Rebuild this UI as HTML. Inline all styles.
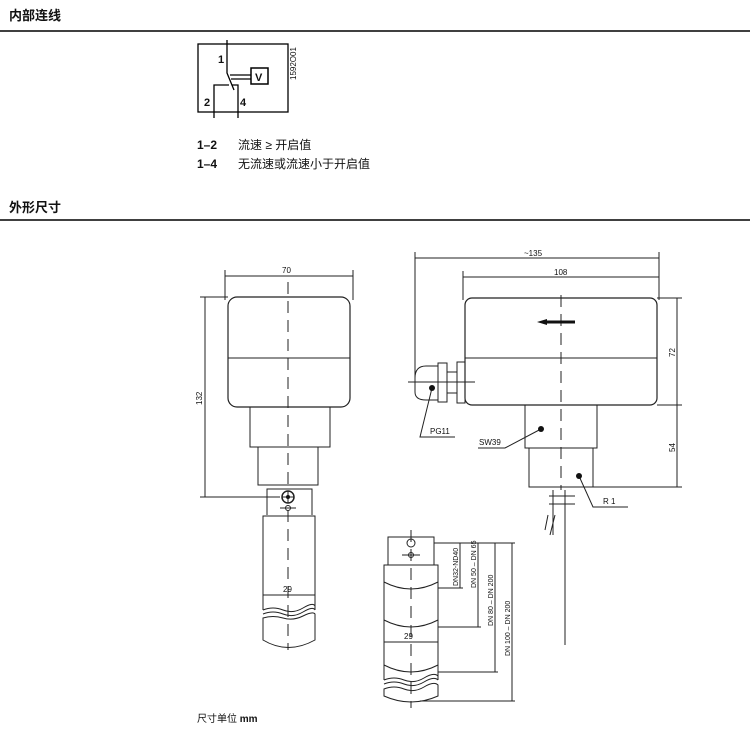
<!DOCTYPE html>
<html><head><meta charset="utf-8"><style>
body{margin:0;background:#fff;width:750px;height:735px;overflow:hidden}
svg{display:block}
text{font-family:"Liberation Sans","Noto Sans CJK SC",sans-serif;fill:#111}
</style></head><body>
<svg width="750" height="735" viewBox="0 0 750 735" xmlns="http://www.w3.org/2000/svg">
<g font-weight="bold" font-size="13">
<text x="9" y="20">内部连线</text>
<text x="9" y="212">外形尺寸</text>
</g>
<line x1="0" y1="31" x2="750" y2="31" stroke="#000" stroke-width="1.5"/>
<line x1="0" y1="220" x2="750" y2="220" stroke="#000" stroke-width="1.5"/>

<!-- wiring -->
<g stroke="#000" stroke-width="1.3" fill="none">
<rect x="198" y="44" width="90" height="68"/>
<polyline points="227,40 227,73 234,90"/>
<rect x="251" y="68" width="17" height="16" stroke-width="1.5"/>
<line x1="230" y1="75" x2="251" y2="75"/><line x1="231" y1="79" x2="251" y2="79"/>
<polyline points="214,118 214,85 229,85"/>
<polyline points="232,85 238,85 238,118"/>
</g>
<g font-weight="bold" font-size="11">
<text x="218" y="63">1</text><text x="204" y="106">2</text><text x="240" y="106">4</text>
<text x="255" y="81">V</text>
</g>
<text font-size="8" transform="translate(296,80) rotate(-90)">1592O01</text>
<g font-size="12">
<text x="197" y="149" font-weight="bold">1–2</text><text x="238" y="149">流速 ≥ 开启值</text>
<text x="197" y="168" font-weight="bold">1–4</text><text x="238" y="168">无流速或流速小于开启值</text>
</g>

<g stroke="#222" stroke-width="1" fill="none">
<!-- left view -->
<line x1="225" y1="276" x2="353" y2="276"/><line x1="225" y1="270" x2="225" y2="300"/><line x1="353" y1="270" x2="353" y2="300"/>
<rect x="228" y="297" width="122" height="110" rx="9" stroke-width="1.2"/>
<line x1="228" y1="358" x2="350" y2="358"/>
<polyline points="250,407 250,447 330,447 330,407"/>
<rect x="258" y="447" width="60" height="38"/>
<line x1="200" y1="297" x2="228" y2="297"/><line x1="200" y1="497" x2="280" y2="497"/>
<line x1="205" y1="297" x2="205" y2="497"/>
<polyline points="267,515 267,489 312,489 312,515"/>
<circle cx="288" cy="497" r="6" stroke-width="1.5"/><line x1="282" y1="497" x2="294" y2="497"/>
<circle cx="288" cy="508" r="2.5"/><line x1="280" y1="508" x2="296" y2="508"/>
<polyline points="263,610 263,516 315,516 315,610"/>
<path d="M263,610 q10,-4 20,0 t20,-2 t12,-2 M263,614 q10,-4 20,0 t20,-2 t12,-2"/>
<path d="M263,618 q10,-3 20,0 t20,-2 t12,-2 L315,640 Q288,655 263,640 Z"/>
<line x1="263" y1="595" x2="315" y2="595"/>
<line x1="288" y1="282" x2="288" y2="650" stroke-dasharray="12,7"/>

<!-- right view -->
<line x1="415" y1="258" x2="659" y2="258"/><line x1="415" y1="252" x2="415" y2="385"/><line x1="659" y1="252" x2="659" y2="300"/>
<line x1="463" y1="277" x2="659" y2="277"/><line x1="463" y1="271" x2="463" y2="300"/>
<rect x="465" y="298" width="192" height="107" rx="7" stroke-width="1.2"/>
<line x1="465" y1="358" x2="657" y2="358"/>
<path d="M438,366 L426,366 Q415,366 415,378 L415,392 Q415,400 426,400 L438,400"/>
<rect x="438" y="363" width="9" height="39"/><rect x="457" y="362" width="8" height="41"/>
<line x1="447" y1="372" x2="457" y2="372"/><line x1="447" y1="393" x2="457" y2="393"/>
<line x1="408" y1="382" x2="475" y2="382"/>
<polyline points="525,405 525,448 597,448 597,405"/>
<rect x="529" y="448" width="64" height="39"/>
<line x1="657" y1="298" x2="682" y2="298"/><line x1="657" y1="405" x2="682" y2="405"/><line x1="593" y1="487" x2="682" y2="487"/>
<line x1="677" y1="298" x2="677" y2="487"/>
<line x1="561" y1="295" x2="561" y2="490" stroke-dasharray="12,7"/>
<line x1="553" y1="490" x2="553" y2="535"/><line x1="565" y1="490" x2="565" y2="645"/>
<line x1="549" y1="496" x2="575" y2="496"/><line x1="549" y1="504" x2="575" y2="504"/>
<path d="M548,515 L545,530 M555,515 L550,535"/>
<polyline points="432,388 420,437 455,437"/>
<polyline points="541,429 505,448 478,448"/>
<polyline points="579,476 593,507 628,507"/>

<!-- bottom right paddle -->
<polyline points="388,565 388,537 434,537 434,565"/>
<polyline points="384,680 384,565 438,565 438,680"/>
<circle cx="411" cy="543" r="4"/><circle cx="411" cy="555" r="2.5"/><line x1="402" y1="555" x2="420" y2="555"/>
<path d="M384,582 Q411,596 438,582 M384,620 Q411,634 438,620 M384,665 Q411,679 438,665"/>
<path d="M384,680 q10,-4 20,0 t20,-2 t14,-2 M384,684 q10,-4 20,0 t20,-2 t14,-2"/>
<path d="M384,689 q10,-4 20,0 t20,-2 t14,-2 L438,696 Q411,708 384,696 Z"/>
<line x1="384" y1="642" x2="438" y2="642"/>
<line x1="411" y1="530" x2="411" y2="708" stroke-dasharray="12,7"/>
<line x1="434" y1="543" x2="515" y2="543"/>
<line x1="438" y1="588" x2="463" y2="588"/><line x1="438" y1="627" x2="481" y2="627"/>
<line x1="438" y1="672" x2="498" y2="672"/><line x1="420" y1="701" x2="515" y2="701"/>
<line x1="460" y1="543" x2="460" y2="588"/><line x1="478" y1="543" x2="478" y2="627"/>
<line x1="495" y1="543" x2="495" y2="672"/><line x1="512" y1="543" x2="512" y2="701"/>
</g>
<g fill="#111">
<circle cx="288" cy="497" r="2"/>
<circle cx="432" cy="388" r="3"/><circle cx="541" cy="429" r="3"/><circle cx="579" cy="476" r="3"/>
<polygon points="537,322 547,319 547,325"/>
</g>
<line x1="545" y1="322" x2="575" y2="322" stroke="#111" stroke-width="3"/>
<g font-size="8">
<text x="282" y="273">70</text><text x="283" y="592">29</text><text x="404" y="639">29</text>
<text x="524" y="256">~135</text><text x="554" y="275">108</text>
<text x="430" y="434">PG11</text><text x="479" y="445">SW39</text><text x="603" y="504">R 1</text>
<text transform="translate(202,405) rotate(-90)">132</text>
<text transform="translate(675,357) rotate(-90)">72</text>
<text transform="translate(675,452) rotate(-90)">54</text>
<text font-size="7" transform="translate(458,586) rotate(-90)">DN32-ND40</text>
<text font-size="7" transform="translate(476,588) rotate(-90)">DN 50 – DN 65</text>
<text font-size="7" transform="translate(493,626) rotate(-90)">DN 80 – DN 200</text>
<text font-size="7" transform="translate(510,656) rotate(-90)">DN 100 – DN 200</text>
</g>
<text x="197" y="722" font-size="10">尺寸单位 <tspan font-weight="bold">mm</tspan></text>
</svg>
</body></html>
